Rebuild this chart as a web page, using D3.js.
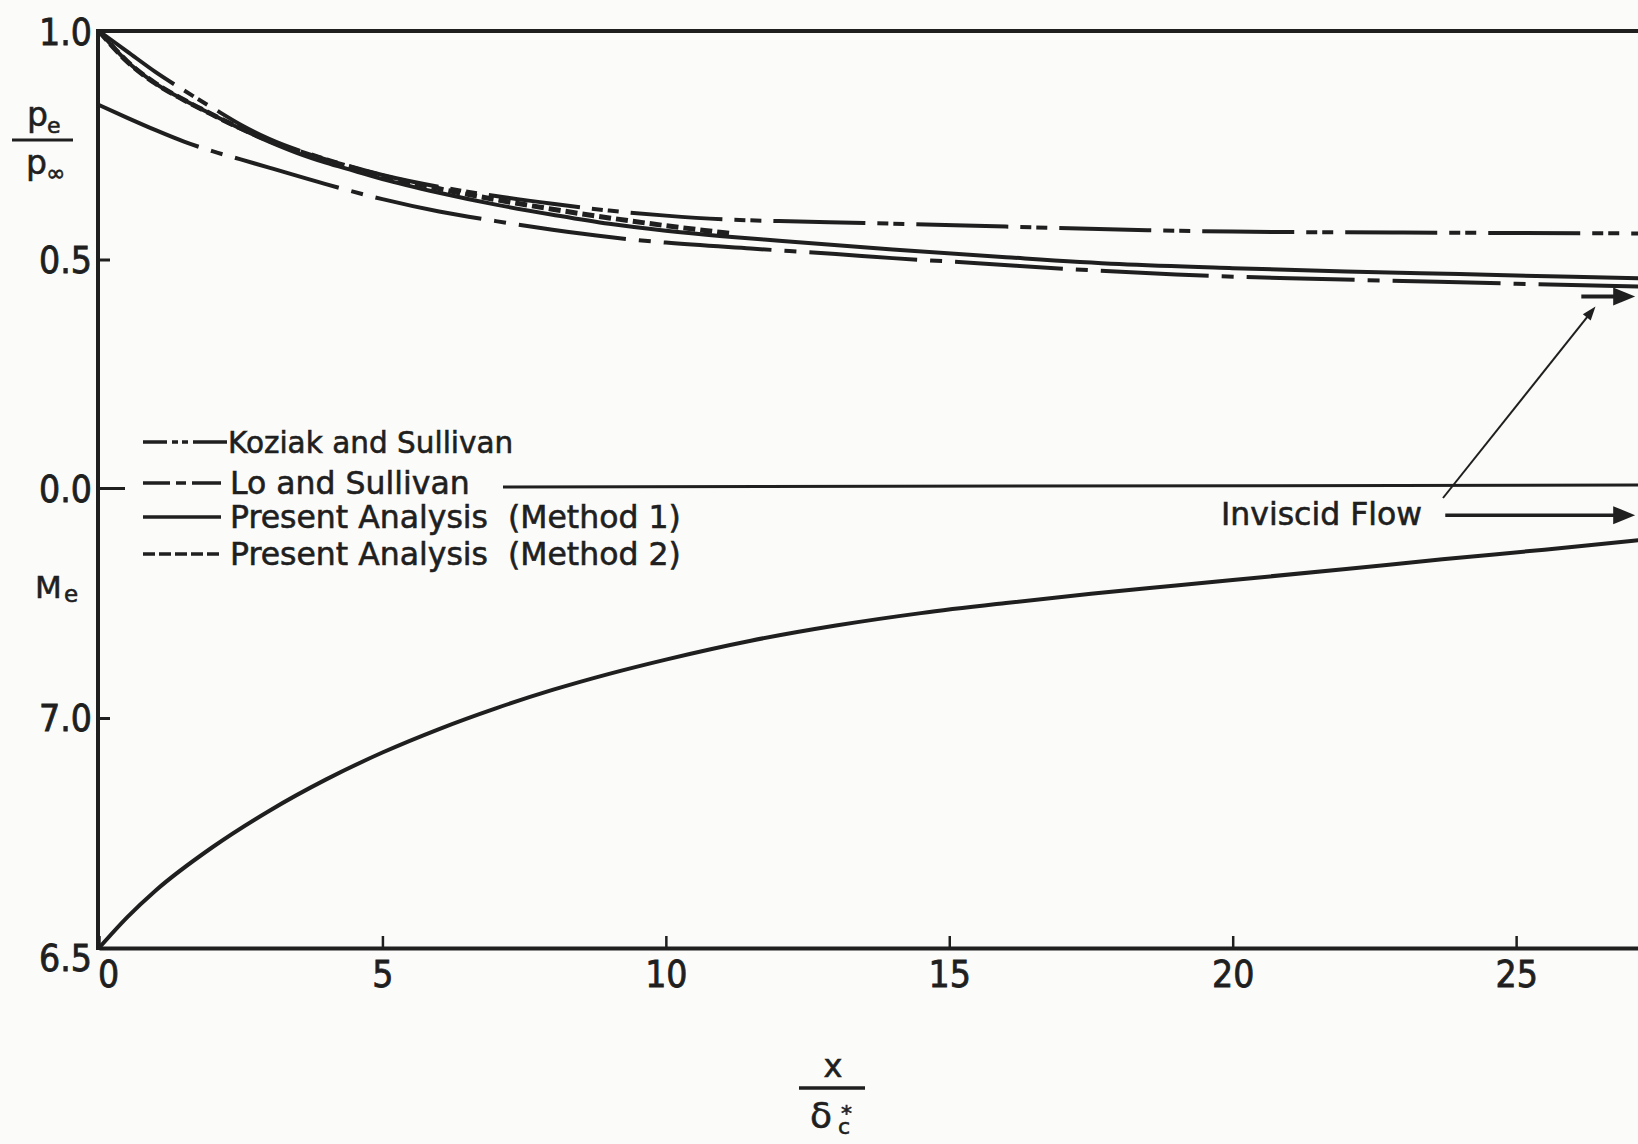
<!DOCTYPE html>
<html>
<head>
<meta charset="utf-8">
<script src="https://cdn.jsdelivr.net/npm/d3@7"></script>
<style>
  html, body { margin: 0; padding: 0; background: #fbfbfa; }
  svg { display: block; }
  .lbl { font-family: "DejaVu Sans", sans-serif; fill: #1f1f1f; stroke: #1f1f1f; stroke-width: 0.6px; }
</style>
</head>
<body>
<div class="chart"></div>
<script>
// ---- data ----
var xTicks = [0, 5, 10, 15, 20, 25];
var pTicks = [1.0, 0.5, 0.0];
var pTickLabels = ["1.0", "0.5", "0.0"];
var mTicks = [7.0, 6.5];
var mTickLabels = ["7.0", "6.5"];

// Koziak and Sullivan
var koziakX = [0, 0.5, 1, 1.5, 2, 2.5, 3, 4, 5, 6, 7, 8, 9, 10, 11, 12, 13.5, 16, 18.5, 20, 23, 25, 27.2];
var koziakP = [1.0, 0.955, 0.910, 0.870, 0.832, 0.795, 0.764, 0.720, 0.685, 0.659, 0.639, 0.622, 0.607, 0.596, 0.588, 0.584, 0.580, 0.572, 0.564, 0.561, 0.559, 0.558, 0.557];

// Lo and Sullivan
var loX = [0, 0.5, 1, 1.5, 2, 2.5, 3, 4, 5, 6, 7, 8, 9, 10, 11.5, 13, 14, 15.5, 17, 19, 21, 23, 25, 27.2];
var loP = [0.838, 0.810, 0.783, 0.758, 0.737, 0.719, 0.701, 0.665, 0.632, 0.605, 0.584, 0.565, 0.549, 0.537, 0.524, 0.512, 0.503, 0.492, 0.480, 0.467, 0.459, 0.453, 0.447, 0.441];

// Present Analysis (Method 1)
var method1X = [0, 0.5, 1, 1.5, 2, 2.5, 3, 3.5, 4, 4.5, 5, 6, 7, 8, 9, 10, 11, 12, 14, 16, 18, 20, 22, 24, 26, 27.2];
var method1P = [1.0, 0.933, 0.885, 0.849, 0.817, 0.786, 0.758, 0.733, 0.712, 0.694, 0.676, 0.646, 0.620, 0.598, 0.578, 0.563, 0.551, 0.541, 0.522, 0.505, 0.490, 0.481, 0.474, 0.468, 0.462, 0.459];

// Present Analysis (Method 2), hidden under Method 1 near the origin
var method2X = [0, 0.5, 1, 1.5, 2, 2.5, 3, 4, 5, 6, 7, 8, 9, 10, 11, 11.2];
var method2P = [1.0, 0.933, 0.885, 0.849, 0.817, 0.787, 0.760, 0.718, 0.683, 0.655, 0.631, 0.610, 0.591, 0.574, 0.559, 0.556];

// Mach number at boundary-layer edge
var machX = [0, 0.5, 1, 2, 3, 4, 5, 6, 7, 8, 9, 10, 11.5, 13, 14.5, 16, 17.5, 19, 20, 22, 23.7, 25.5, 27.2];
var machM = [6.5, 6.567, 6.625, 6.719, 6.798, 6.866, 6.925, 6.976, 7.021, 7.061, 7.096, 7.127, 7.168, 7.201, 7.228, 7.250, 7.270, 7.288, 7.300, 7.324, 7.345, 7.366, 7.387];

// inviscid flow levels
var inviscidP = 0.419;
var inviscidM = 7.441;

var legendNames = ["Koziak and Sullivan", "Lo and Sullivan", "Present Analysis  (Method 1)", "Present Analysis  (Method 2)"];

// ---- layout ----
var svgWidth = 1638;
var svgHeight = 1144;
var ink = "#1f1f1f";
var numFont = "'Liberation Sans Narrow', 'DejaVu Sans Condensed', sans-serif";

var svg = d3.select(".chart")
  .append("svg")
  .attr("width", svgWidth)
  .attr("height", svgHeight);

svg.append("rect").attr("width", svgWidth).attr("height", svgHeight).attr("fill", "#fbfbfa");

var xScale = d3.scaleLinear().domain([0, 27.15]).range([99, 1638]);
var yP = d3.scaleLinear().domain([0, 1]).range([488, 31]);
var yM = d3.scaleLinear().domain([6.5, 7.5]).range([948, 488]);

// frame: top line at 1.0, 0.0 divider, left axis
svg.append("line")
  .attr("x1", 96).attr("x2", svgWidth)
  .attr("y1", yP(1)).attr("y2", yP(1))
  .attr("stroke", ink).attr("stroke-width", 4);

svg.append("line")
  .attr("x1", 503).attr("x2", svgWidth)
  .attr("y1", yP(0) - 1).attr("y2", yP(0) - 3)
  .attr("stroke", ink).attr("stroke-width", 3);

svg.append("line")
  .attr("x1", 98).attr("x2", 98)
  .attr("y1", yP(1) - 2).attr("y2", yM(6.5) + 2)
  .attr("stroke", ink).attr("stroke-width", 4);

// x axis
var xAxis = d3.axisBottom(xScale)
  .tickValues(xTicks)
  .tickSize(-12)
  .tickSizeOuter(0)
  .tickFormat(d => d);

var xAxisG = svg.append("g")
  .attr("transform", `translate(0, ${yM(6.5)})`)
  .call(xAxis);

xAxisG.select(".domain").attr("stroke", ink).attr("stroke-width", 4);
xAxisG.selectAll(".tick line").attr("stroke", ink).attr("stroke-width", 2.5);
xAxisG.selectAll(".tick text")
  .attr("y", 39)
  .attr("dy", 0)
  .attr("x", d => d === 0 ? 9 : 0);

// y axis, pressure part
var pAxis = d3.axisLeft(yP)
  .tickValues(pTicks)
  .tickSize(-12)
  .tickSizeOuter(0)
  .tickPadding(6)
  .tickFormat((d, i) => pTickLabels[i]);

var pAxisG = svg.append("g").attr("transform", "translate(98, 0)").call(pAxis);
pAxisG.select(".domain").remove();
pAxisG.selectAll(".tick line")
  .attr("stroke", ink).attr("stroke-width", 3)
  .attr("x2", d => d === 0 ? 27 : (d === 1 ? 0 : 12));
pAxisG.selectAll(".tick text").attr("dy", "0.36em");

// y axis, Mach part
var mAxis = d3.axisLeft(yM)
  .tickValues(mTicks)
  .tickSize(-12)
  .tickSizeOuter(0)
  .tickPadding(6)
  .tickFormat((d, i) => mTickLabels[i]);

var mAxisG = svg.append("g").attr("transform", "translate(98, 0)").call(mAxis);
mAxisG.select(".domain").remove();
mAxisG.selectAll(".tick line")
  .attr("stroke", ink).attr("stroke-width", 3)
  .attr("x2", d => d === 6.5 ? 0 : 12);
mAxisG.selectAll(".tick text").attr("dy", d => d === 6.5 ? "0.6em" : "0.34em");

svg.selectAll(".tick text")
  .style("font-size", "37px")
  .style("font-family", numFont)
  .attr("fill", ink)
  .attr("stroke", ink)
  .attr("stroke-width", 0.8);

// ---- curves ----
function series(xs, ys) {
  return xs.map((x, i) => [x, ys[i]]);
}

var pLine = d3.line()
  .x(d => xScale(d[0]))
  .y(d => yP(d[1]))
  .curve(d3.curveMonotoneX);

var mLine = d3.line()
  .x(d => xScale(d[0]))
  .y(d => yM(d[1]))
  .curve(d3.curveMonotoneX);

var styles = [
  { dash: "92,12,11,5,11,12", width: 4 },   // Koziak and Sullivan
  { dash: "108,13,12,13", width: 4 },        // Lo and Sullivan
  { dash: null, width: 4 },                  // Method 1
  { dash: "12,5", width: 5 }                 // Method 2
];

var curves = [
  series(koziakX, koziakP),
  series(loX, loP),
  series(method2X, method2P),
  series(method1X, method1P)
];
var order = [0, 1, 3, 2];

curves.forEach(function(c, i) {
  var s = styles[order[i]];
  svg.append("path")
    .datum(c)
    .attr("d", pLine)
    .attr("fill", "none")
    .attr("stroke", ink)
    .attr("stroke-width", s.width)
    .attr("stroke-dasharray", s.dash);
});

svg.append("path")
  .datum(series(machX, machM))
  .attr("d", mLine)
  .attr("fill", "none")
  .attr("stroke", ink)
  .attr("stroke-width", 4);

// ---- legend ----
var legendY = [442, 483, 517, 554];
var legendDash = ["24,5,6,4,6,5,40", "27,6,10,6,40", null, "12,4"];

var legend = svg.append("g");
legendNames.forEach(function(name, i) {
  legend.append("line")
    .attr("x1", 143).attr("x2", i === 0 ? 227 : 221)
    .attr("y1", legendY[i]).attr("y2", legendY[i])
    .attr("stroke", ink)
    .attr("stroke-width", 3.5)
    .attr("stroke-dasharray", legendDash[i]);
  legend.append("text")
    .attr("class", "lbl")
    .attr("x", i === 0 ? 228 : 230)
    .attr("y", legendY[i] + 11)
    .style("font-size", i === 0 ? "29.5px" : "31.5px")
    .style("white-space", "pre")
    .text(name);
});

// ---- inviscid flow annotation ----
function arrowHead(tipX, tipY, angle, len, half) {
  var ca = Math.cos(angle), sa = Math.sin(angle);
  var bx = tipX - len * ca, by = tipY - len * sa;
  return [
    [tipX, tipY],
    [bx - half * sa, by + half * ca],
    [bx + half * sa, by - half * ca]
  ];
}

var tipX = xScale(27.1);

// p arrow
svg.append("line")
  .attr("x1", xScale(26.15)).attr("x2", tipX - 10)
  .attr("y1", yP(inviscidP)).attr("y2", yP(inviscidP))
  .attr("stroke", ink).attr("stroke-width", 4);
svg.append("polygon")
  .attr("points", arrowHead(tipX, yP(inviscidP), 0, 22, 9).join(" "))
  .attr("fill", ink);

// Mach arrow
svg.append("line")
  .attr("x1", xScale(23.75)).attr("x2", tipX - 10)
  .attr("y1", yM(inviscidM)).attr("y2", yM(inviscidM))
  .attr("stroke", ink).attr("stroke-width", 3.5);
svg.append("polygon")
  .attr("points", arrowHead(tipX, yM(inviscidM), 0, 22, 9).join(" "))
  .attr("fill", ink);

// text and leader to the pressure arrow
svg.append("text")
  .attr("class", "lbl")
  .attr("x", 1221)
  .attr("y", 525)
  .style("font-size", "31.5px")
  .text("Inviscid Flow");

var lx1 = 1443, ly1 = 498;
var lx2 = xScale(26.4), ly2 = yP(inviscidP) + 10;
var ang = Math.atan2(ly2 - ly1, lx2 - lx1);
svg.append("line")
  .attr("x1", lx1).attr("y1", ly1)
  .attr("x2", lx2 - 8 * Math.cos(ang)).attr("y2", ly2 - 8 * Math.sin(ang))
  .attr("stroke", ink).attr("stroke-width", 2);
svg.append("polygon")
  .attr("points", arrowHead(lx2, ly2, ang, 14, 5).join(" "))
  .attr("fill", ink);

// ---- axis titles ----
// p_e / p_inf
var pt = svg.append("g").attr("class", "lbl");
pt.append("text").attr("x", 27).attr("y", 126).style("font-size", "33px").text("p");
pt.append("text").attr("x", 47).attr("y", 133).style("font-size", "22px").text("e");
pt.append("line").attr("x1", 12).attr("x2", 73).attr("y1", 140).attr("y2", 140)
  .attr("stroke", ink).attr("stroke-width", 3);
pt.append("text").attr("x", 26).attr("y", 174).style("font-size", "33px").text("p");
pt.append("text").attr("x", 46).attr("y", 181).style("font-size", "23px").text("\u221e");

// M_e
var mt = svg.append("g").attr("class", "lbl");
mt.append("text").attr("x", 35).attr("y", 598).style("font-size", "31px").text("M");
mt.append("text").attr("x", 64).attr("y", 602).style("font-size", "23px").text("e");

// x / delta_c*
var xt = svg.append("g").attr("class", "lbl");
xt.append("text").attr("x", 833).attr("y", 1077).attr("text-anchor", "middle")
  .style("font-size", "32px").text("x");
xt.append("line").attr("x1", 799).attr("x2", 865).attr("y1", 1088).attr("y2", 1088)
  .attr("stroke", ink).attr("stroke-width", 3.5);
xt.append("text").attr("x", 810).attr("y", 1128).style("font-size", "36px").text("\u03b4");
xt.append("text").attr("x", 838).attr("y", 1134).style("font-size", "22px").text("c");
xt.append("text").attr("x", 841).attr("y", 1121).style("font-size", "22px").text("*");
</script>
</body>
</html>
